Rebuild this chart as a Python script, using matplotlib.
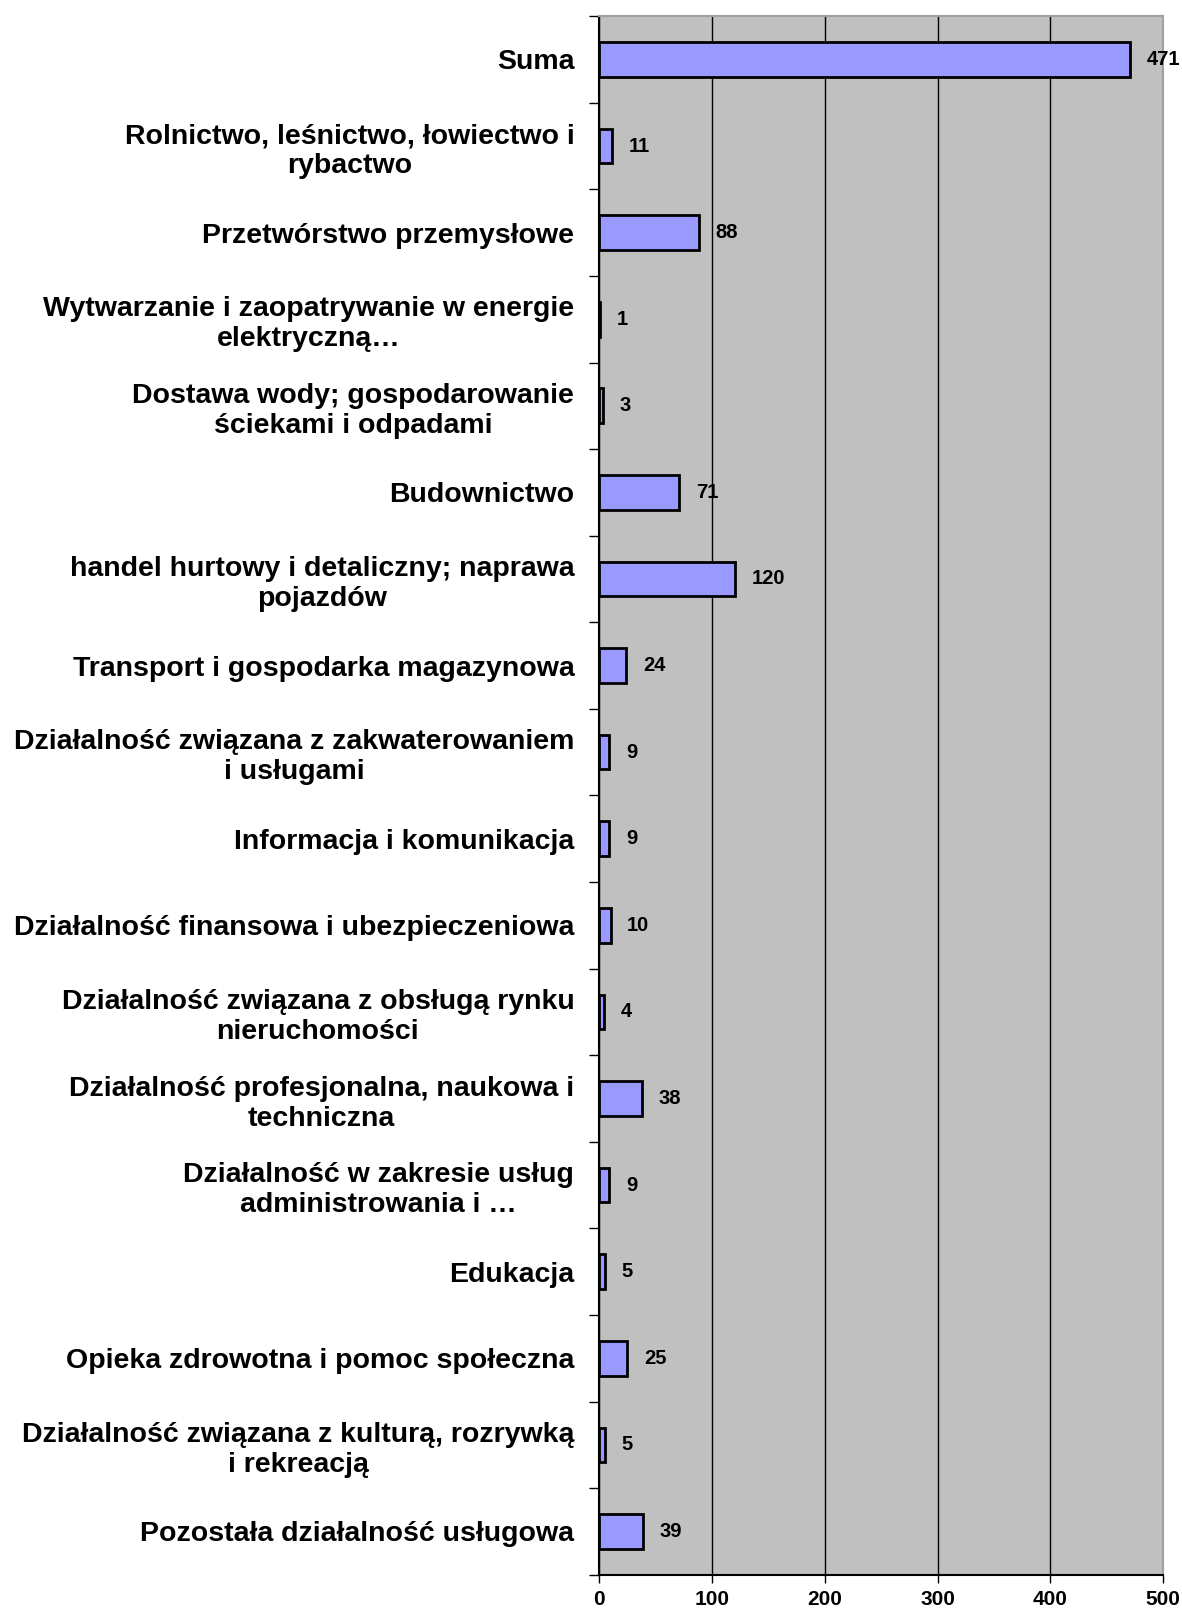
import matplotlib.pyplot as plt
import numpy as np

plt.rcParams["font.family"] = ["Liberation Sans", "DejaVu Sans"]
plt.rcParams["font.weight"] = "bold"

categories = [
    "Suma",
    "Rolnictwo, leśnictwo, łowiectwo i\nrybactwo",
    "Przetwórstwo przemysłowe",
    "Wytwarzanie i zaopatrywanie w energie\nelektryczną…",
    "Dostawa wody; gospodarowanie\nściekami i odpadami",
    "Budownictwo",
    "handel hurtowy i detaliczny; naprawa\npojazdów",
    "Transport i gospodarka magazynowa",
    "Działalność związana z zakwaterowaniem\ni usługami",
    "Informacja i komunikacja",
    "Działalność finansowa i ubezpieczeniowa",
    "Działalność związana z obsługą rynku\nnieruchomości",
    "Działalność profesjonalna, naukowa i\ntechniczna",
    "Działalność w zakresie usług\nadministrowania i …",
    "Edukacja",
    "Opieka zdrowotna i pomoc społeczna",
    "Działalność związana z kulturą, rozrywką\ni rekreacją",
    "Pozostała działalność usługowa",
]
values = [471, 11, 88, 1, 3, 71, 120, 24, 9, 9, 10, 4, 38, 9, 5, 25, 5, 39]
x_ticks = [0, 100, 200, 300, 400, 500]

fig = plt.figure(figsize=(11.82, 16.16), dpi=100)
ax = fig.add_axes([0.507, 0.0255, 0.477, 0.9645])
ax.set_facecolor("#C0C0C0")

pos = np.arange(len(categories))
ax.barh(pos, values, height=0.4, color="#9999FF", edgecolor="black",
        linewidth=2, zorder=3)

for p, v in zip(pos, values):
    ax.annotate(str(v), (v, p), xytext=(12, 0), textcoords="offset points",
                ha="left", va="center", fontsize=14.5, fontweight="bold",
                zorder=4, annotation_clip=False)

ax.set_xlim(0, 500)
ax.set_ylim(len(categories) - 0.5, -0.5)
ax.set_xticks(x_ticks)
ax.set_xticklabels([str(t) for t in x_ticks], fontsize=15, fontweight="bold")
ax.xaxis.grid(True, color="black", linewidth=1, zorder=1)
ax.set_axisbelow(True)

ax.set_yticks(pos)
ax.set_yticklabels(categories, fontsize=20.5, fontweight="bold",
                   multialignment="center")
ax.set_yticks(np.arange(len(categories) + 1) - 0.5, minor=True)
ax.tick_params(axis="y", which="major", length=0, pad=18)
ax.tick_params(axis="y", which="minor", length=7, width=1, direction="out")
ax.tick_params(axis="x", which="major", length=6, width=1, direction="out", pad=5)

ax.spines["left"].set_linewidth(1.5)
ax.spines["bottom"].set_linewidth(1.5)
ax.spines["top"].set_color("#A0A0A0")
ax.spines["right"].set_color("#A0A0A0")
ax.spines["top"].set_linewidth(1.5)
ax.spines["right"].set_linewidth(1.5)

plt.savefig("out.png", dpi=100)
